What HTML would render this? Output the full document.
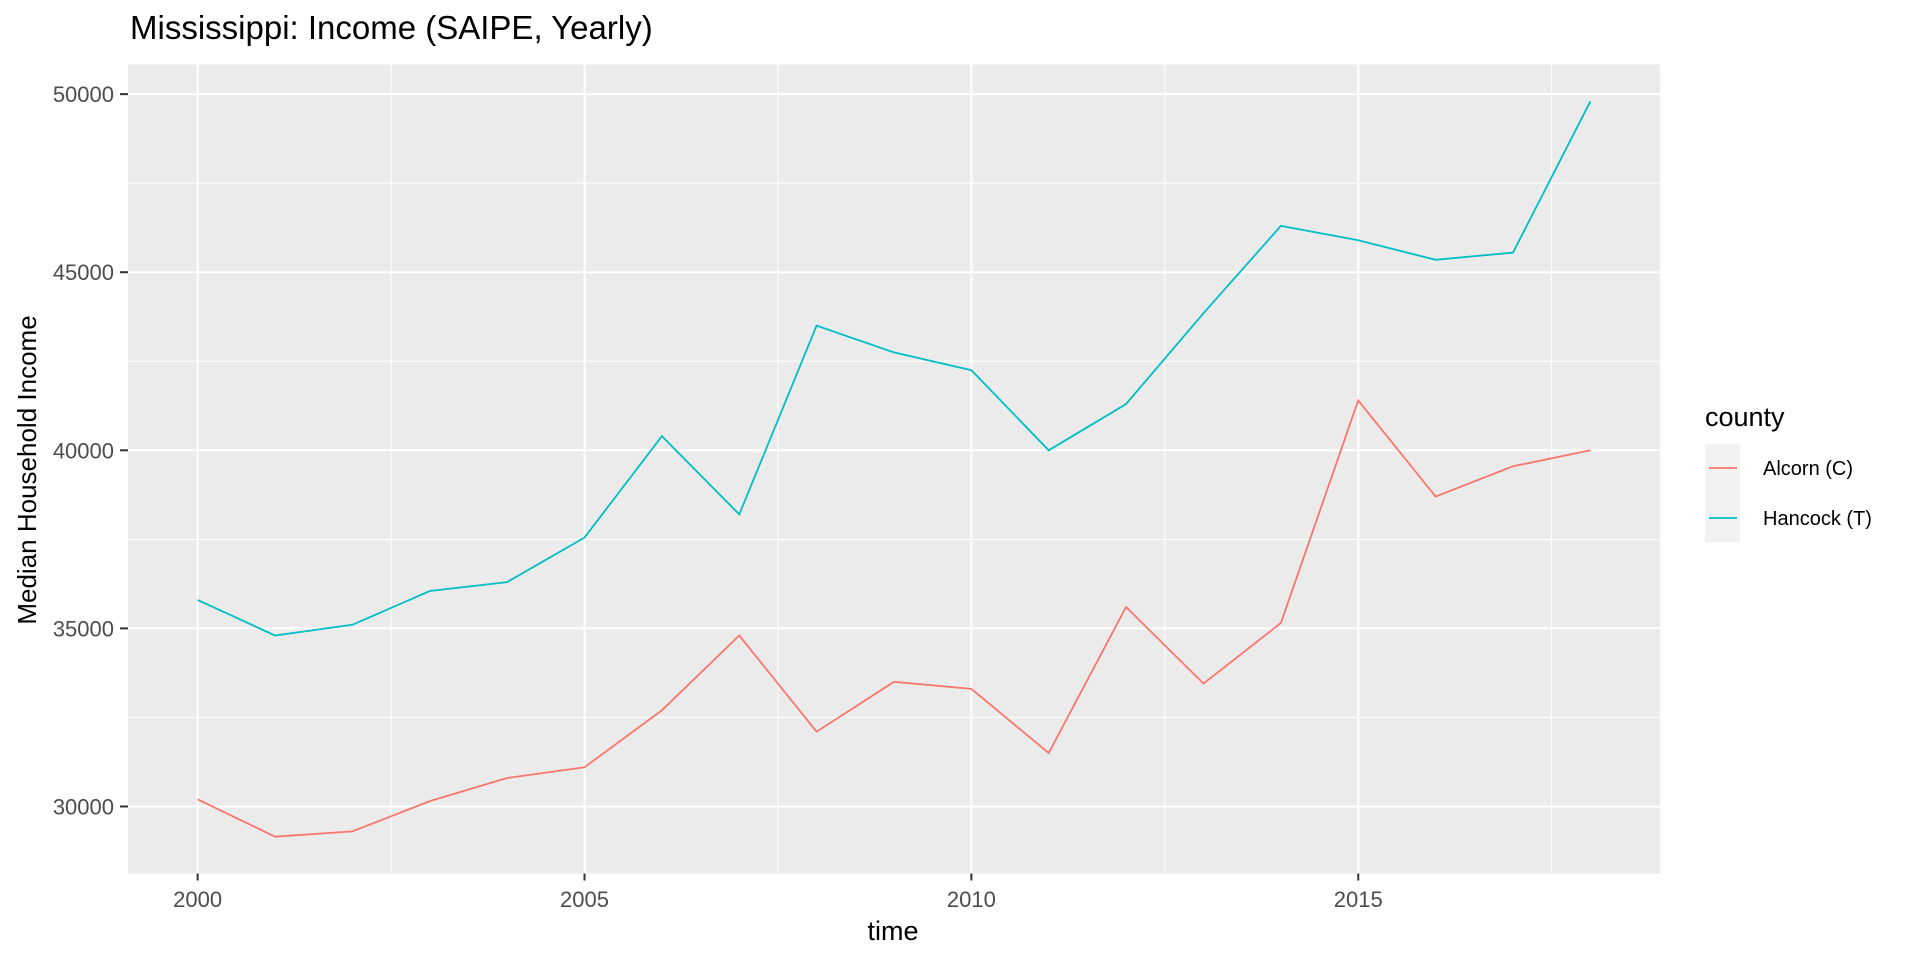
<!DOCTYPE html>
<html><head><meta charset="utf-8"><style>
body{margin:0;background:#fff;font-family:"Liberation Sans",sans-serif}
</style></head><body>
<svg id="chart" width="1920" height="960" xmlns="http://www.w3.org/2000/svg" font-family="Liberation Sans, sans-serif">
<text x="130" y="39" font-size="33" fill="#000">Mississippi: Income (SAIPE, Yearly)</text>
<rect x="128" y="64.5" width="1532" height="809" fill="#ebebeb"/>
<g id="grid"></g><g id="series"></g><g id="axes"></g>
<text x="893" y="940" font-size="27" text-anchor="middle" fill="#000">time</text>
<text transform="translate(36,470) rotate(-90)" font-size="26" text-anchor="middle" fill="#000">Median Household Income</text>
<g>
<text x="1705" y="426" font-size="27" fill="#000">county</text>
<rect x="1705" y="444" width="35" height="48" fill="#f2f2f2"/>
<line x1="1709" x2="1737" y1="468" y2="468" stroke="#F8766D" stroke-width="1.8"/>
<rect x="1705" y="492" width="35" height="50" fill="#f2f2f2"/>
<line x1="1709" x2="1737" y1="518" y2="518" stroke="#00BFC4" stroke-width="1.8"/>
<text x="1763" y="475" font-size="20" fill="#000">Alcorn (C)</text>
<text x="1763" y="525" font-size="20" fill="#000">Hancock (T)</text>
</g>
</svg>
<script>
const years=[2000,2001,2002,2003,2004,2005,2006,2007,2008,2009,2010,2011,2012,2013,2014,2015,2016,2017,2018];
const alcorn=[30200,29150,29300,30150,30800,31100,32700,34800,32100,33500,33300,31500,35600,33450,35150,41400,38700,39550,40000];
const hancock=[35800,34800,35100,36050,36300,37550,40400,38200,43500,42750,42250,40000,41300,43850,46300,45900,45350,45550,49800];
const xTicks=[2000,2005,2010,2015];
const yTicks=[30000,35000,40000,45000,50000];
const NS="http://www.w3.org/2000/svg";
const L=128,R=1660,T=64.5,B=873.5;
const x0=1999.1,x1=2018.9,y0=28118,y1=50832;
const xs=v=>L+(v-x0)/(x1-x0)*(R-L);
const ys=v=>B-(v-y0)/(y1-y0)*(B-T);
function mk(tag,attrs,parent){const e=document.createElementNS(NS,tag);for(const k in attrs)e.setAttribute(k,attrs[k]);parent.appendChild(e);return e;}
const grid=document.getElementById('grid'),axes=document.getElementById('axes'),ser=document.getElementById('series');
for(let i=0;i<xTicks.length;i++){
 const mx=xTicks[i]+2.5;
 if(mx<x1){const m=mk('line',{x1:xs(mx),x2:xs(mx),y1:T,y2:B,stroke:'#fff','stroke-width':1},grid);
 
 }
}
for(let i=0;i<yTicks.length;i++){
 const mv=yTicks[i]-2500;
 if(mv>y0){const m=mk('line',{x1:L,x2:R,y1:ys(mv),y2:ys(mv),stroke:'#fff','stroke-width':1},grid);
 
 }
}
xTicks.forEach(t=>{
 const g=mk('line',{x1:xs(t),x2:xs(t),y1:T,y2:B,stroke:'#fff','stroke-width':2},grid);
 
 
 const tk=mk('line',{x1:xs(t),x2:xs(t),y1:B,y2:B+7,stroke:'#333','stroke-width':2},axes);
 
 
 const tx=mk('text',{x:xs(t),y:907,'font-size':22,'text-anchor':'middle',fill:'#4d4d4d'},axes);
 tx.textContent=t;
 
 
});
yTicks.forEach(t=>{
 const g=mk('line',{x1:L,x2:R,y1:ys(t),y2:ys(t),stroke:'#fff','stroke-width':2},grid);
 
 
 const tk=mk('line',{x1:L-8,x2:L,y1:ys(t),y2:ys(t),stroke:'#333','stroke-width':2},axes);
 
 
 const tx=mk('text',{x:L-14,y:ys(t)+8,'font-size':22,'text-anchor':'end',fill:'#4d4d4d'},axes);
 tx.textContent=t;
 
 
});
function line(vals,color,name){
 const d=vals.map((v,i)=>(i?'L':'M')+xs(years[i]).toFixed(1)+','+ys(v).toFixed(1)).join('');
 const p=mk('path',{d:d,fill:'none',stroke:color,'stroke-width':1.8},ser);
 
 
}
line(alcorn,'#F8766D','line-alcorn');
line(hancock,'#00BFC4','line-hancock');
</script>
</body></html>
